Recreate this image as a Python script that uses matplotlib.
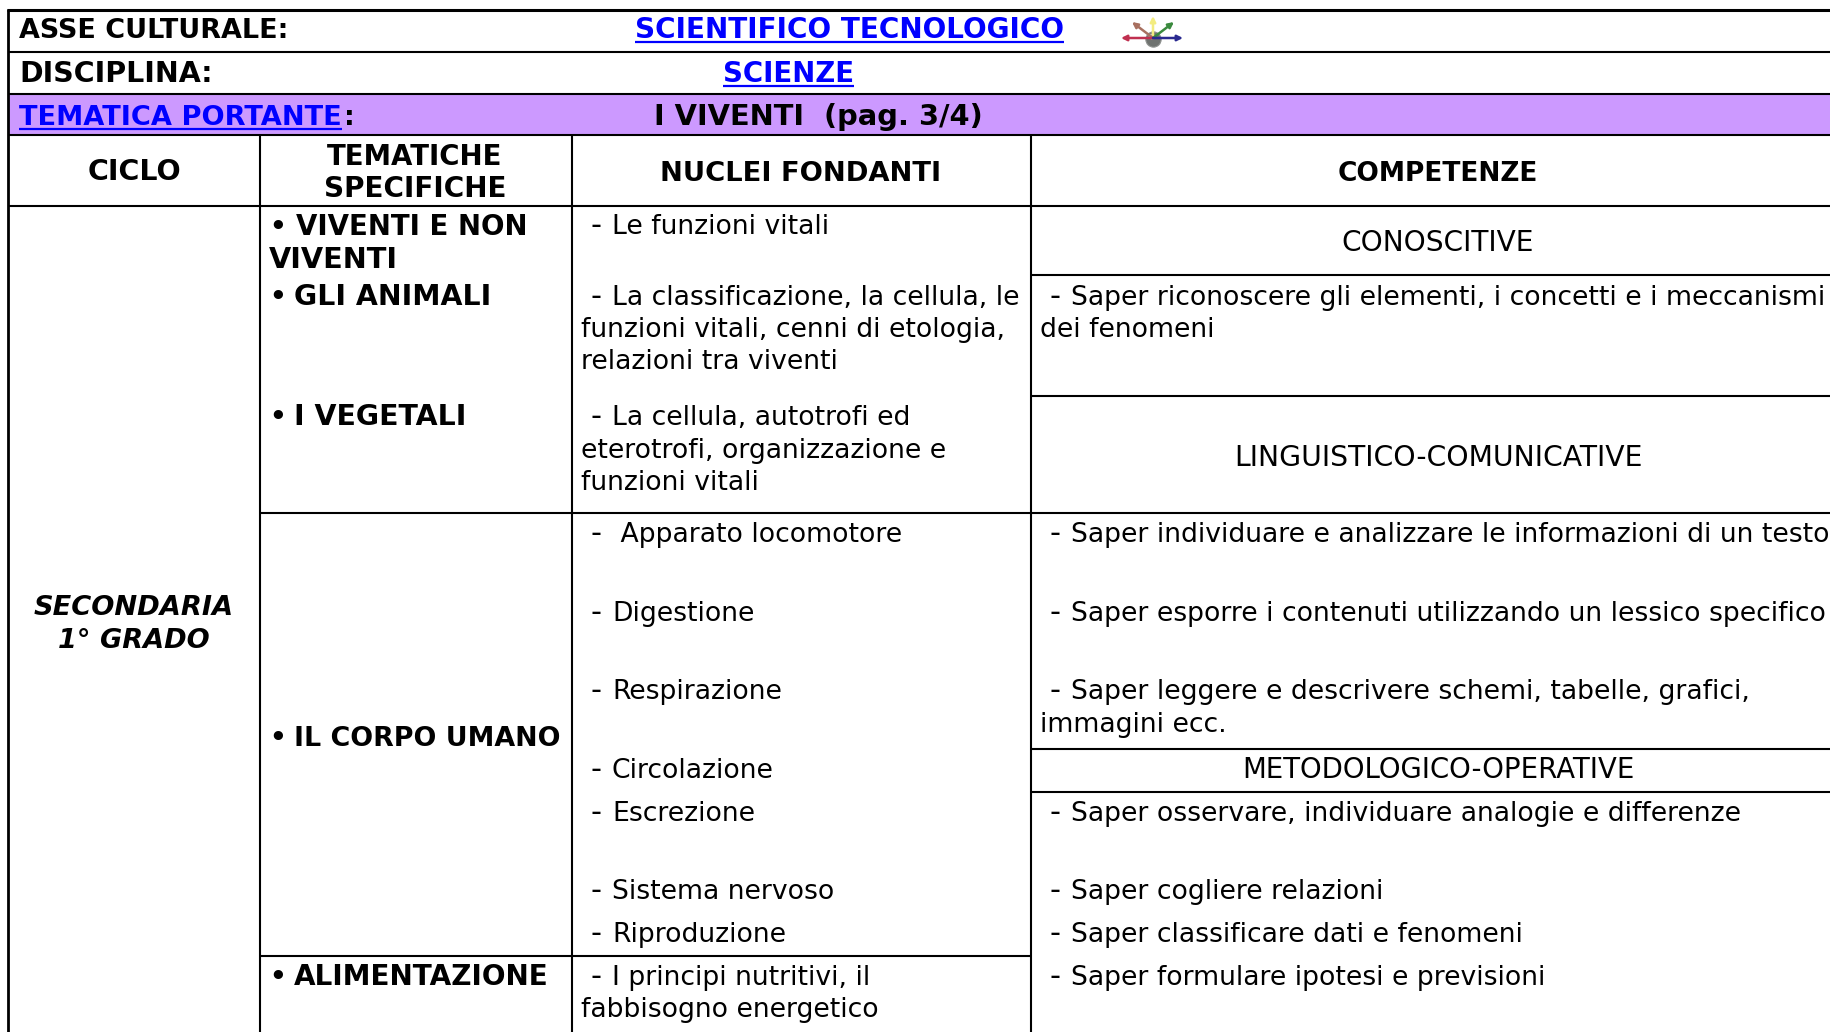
import matplotlib

matplotlib.use("Agg")
import matplotlib.pyplot as plt  # noqa: E402

W, H = 1831, 1032
FS = 19.2
BLUE = "#0000ff"
PURPLE = "#cc99ff"

# testi della scheda
header_labels = ["ASSE CULTURALE:", "DISCIPLINA:", ":", "I VIVENTI  (pag. 3/4)"]
link_labels = ["SCIENTIFICO TECNOLOGICO", "SCIENZE", "TEMATICA PORTANTE"]
column_labels = ["CICLO", "TEMATICHE", "SPECIFICHE", "NUCLEI FONDANTI", "COMPETENZE"]
ciclo_labels = ["SECONDARIA", "1° GRADO"]
tematiche = [
    "VIVENTI E NON",
    "VIVENTI",
    "GLI ANIMALI",
    "I VEGETALI",
    "IL CORPO UMANO",
    "ALIMENTAZIONE",
]
tematiche_bullet = [True, False, True, True, True, True]
nuclei = [
    "- Le funzioni vitali",
    "- La classificazione, la cellula, le",
    "funzioni vitali, cenni di etologia,",
    "relazioni tra viventi",
    "- La cellula, autotrofi ed",
    "eterotrofi, organizzazione e",
    "funzioni vitali",
    "-  Apparato locomotore",
    "- Digestione",
    "- Respirazione",
    "- Circolazione",
    "- Escrezione",
    "- Sistema nervoso",
    "- Riproduzione",
    "- I principi nutritivi, il",
    "fabbisogno energetico",
]
competenze_titoli = ["CONOSCITIVE", "LINGUISTICO-COMUNICATIVE", "METODOLOGICO-OPERATIVE"]
competenze = [
    "- Saper riconoscere gli elementi, i concetti e i meccanismi",
    "dei fenomeni",
    "- Saper individuare e analizzare le informazioni di un testo",
    "- Saper esporre i contenuti utilizzando un lessico specifico",
    "- Saper leggere e descrivere schemi, tabelle, grafici,",
    "immagini ecc.",
    "- Saper osservare, individuare analogie e differenze",
    "- Saper cogliere relazioni",
    "- Saper classificare dati e fenomeni",
    "- Saper formulare ipotesi e previsioni",
]

# posizioni e corpi, in pixel e punti
header_pos = [(19, 38), (19, 82), (344, 125), (654, 125)]
header_fs = [19.45, 20.5, 19.6, 20.8]
link_pos = [(635, 38), (723, 82), (19, 125)]
link_fs = [20.1, 19.9, 19.6]
column_pos = [(134, 180), (415, 165), (415, 197), (801, 181), (1438, 181)]
column_fs = [20.5, 19.9, 20.1, 19.7, 19.0]
ciclo_pos = [(134, 615), (134, 648)]
ciclo_fs = [19.65, 19.5]
tematiche_x = [296, 269, 294, 294, 294, 294]
tematiche_y = [235, 268, 305, 425, 746, 985]
tematiche_fs = [19.9, 20.7, 20.4, 20.45, 19.4, 20.05]
nuclei_x = [591, 591, 581, 581, 591, 581, 581, 591, 591, 591, 591, 591, 591, 591, 591, 581]
nuclei_y = [234, 305, 337, 369, 425, 458, 490, 542, 621, 699, 778, 821, 899, 942, 985, 1017]
titoli_y = [251, 466, 778]
titoli_fs = [20.2, 20.3, 19.85]
competenze_x = [1050, 1040, 1050, 1050, 1050, 1040, 1050, 1050, 1050, 1050]
competenze_y = [305, 337, 542, 621, 699, 732, 821, 899, 942, 985]

fig = plt.figure(figsize=(W / 100, H / 100), dpi=100)
ax = fig.add_axes([0, 0, 1, 1])
ax.set_xlim(0, W)
ax.set_ylim(H, 0)
ax.axis("off")

ax.fill_between([8, W], 94, 135, color=PURPLE, lw=0)


def hline(y, x0, x1=W, lw=1.5):
    ax.plot([x0, x1], [y, y], color="black", lw=lw, solid_capstyle="butt")


def vline(x, y0, y1=H, lw=1.5):
    ax.plot([x, x], [y0, y1], color="black", lw=lw, solid_capstyle="butt")


hline(10, 7, lw=2.2)
hline(52, 8)
hline(94, 8)
hline(135, 8)
hline(206, 8)
hline(275, 1031)
hline(396, 1031)
hline(513, 260)
hline(749, 1031)
hline(792, 1031)
hline(956, 260, 1031)
vline(8.5, 9, lw=2.0)
vline(260, 135)
vline(572, 135)
vline(1031, 135)


def put(x, y, s, fontsize=FS, color="black", **kw):
    return ax.text(x, y, s, va="baseline", family="DejaVu Sans", color=color, fontsize=fontsize, **kw)


def put_item(x, y, s):
    # il trattino ha uno spazio un po' piu largo che in DejaVu
    if s.startswith("- "):
        put(x, y, "-", fontsize=22)
        put(x + 21, y, s[2:])
    else:
        put(x, y, s)


for s, (x, y), fs in zip(header_labels, header_pos, header_fs):
    put(x, y, s, fontsize=fs, fontweight="bold")
for s, (x, y), fs in zip(column_labels, column_pos, column_fs):
    put(x, y, s, fontsize=fs, fontweight="bold", ha="center")
for s, (x, y), fs in zip(ciclo_labels, ciclo_pos, ciclo_fs):
    put(x, y, s, fontsize=fs, fontweight="bold", style="italic", ha="center")
for s, b, x, y, fs in zip(tematiche, tematiche_bullet, tematiche_x, tematiche_y, tematiche_fs):
    if b:
        put(269, y, "•", fontsize=19, fontweight="bold")
    put(x, y, s, fontsize=fs, fontweight="bold")
for s, x, y in zip(nuclei, nuclei_x, nuclei_y):
    put_item(x, y, s)
for s, y, fs in zip(competenze_titoli, titoli_y, titoli_fs):
    put(1438, y, s, fontsize=fs, ha="center")
for s, x, y in zip(competenze, competenze_x, competenze_y):
    put_item(x, y, s)

# link sottolineati
renderer = fig.canvas.get_renderer()
for s, (x, y), fs in zip(link_labels, link_pos, link_fs):
    t = put(x, y, s, fontsize=fs, fontweight="bold", color=BLUE)
    box = t.get_window_extent(renderer)
    ax.plot([box.x0, box.x1], [y + 4, y + 4], color=BLUE, lw=1.6, solid_capstyle="butt")

# icona
arrow_ends = [(1153, 16), (1132, 22), (1174, 22), (1121, 38), (1183, 38)]
arrow_colors = ["#f3ec80", "#a87060", "#3a8a3e", "#c03050", "#2a2a90"]
for (ex, ey), c in zip(arrow_ends, arrow_colors):
    ax.annotate("", xy=(ex, ey), xytext=(1153, 38),
                arrowprops=dict(arrowstyle="-|>", color=c, lw=1.8, mutation_scale=8, shrinkA=0, shrinkB=0))
ax.plot([1153], [39], "o", color="#6f7370", ms=11, mec="#8f9290", mew=0.8)
ax.plot([1151], [36], "o", color="#c4c7c4", ms=4, mew=0)

fig.savefig("out.png", dpi=100)
